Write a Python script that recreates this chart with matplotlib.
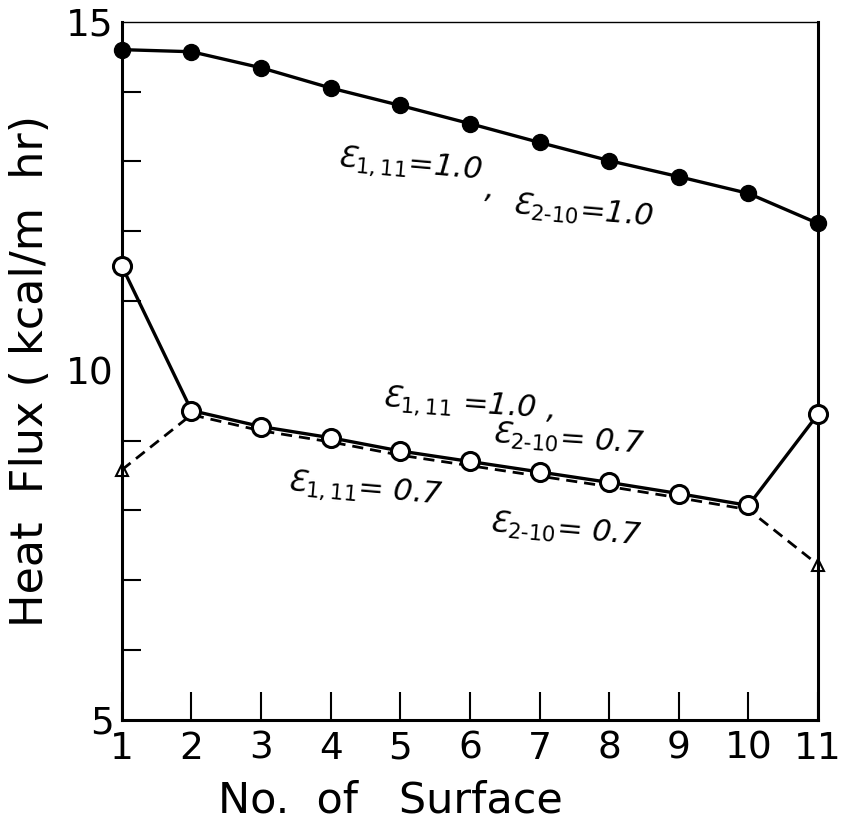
import matplotlib
matplotlib.use("Agg")
import matplotlib.pyplot as plt

surface = [1, 2, 3, 4, 5, 6, 7, 8, 9, 10, 11]
flux_all_10 = [14.60, 14.57, 14.34, 14.05, 13.80, 13.54, 13.27, 13.01, 12.78, 12.54, 12.11]
flux_ends10_mid07 = [11.50, 9.43, 9.20, 9.04, 8.85, 8.70, 8.55, 8.40, 8.24, 8.07, 9.38]
flux_all_07 = [8.58, 9.37, 9.14, 8.98, 8.79, 8.64, 8.49, 8.34, 8.18, 8.01, 7.22]

xticks = [1, 2, 3, 4, 5, 6, 7, 8, 9, 10, 11]
yticks_major = [5, 10, 15]
yticks_minor = [6, 7, 8, 9, 11, 12, 13, 14]

plt.rcParams['font.family'] = ['DejaVu Sans']
plt.rcParams['mathtext.fontset'] = 'dejavusans'

fig = plt.figure(figsize=(8.46, 8.35), dpi=100)
ax = fig.add_axes([0.144, 0.138, 0.823, 0.836])

ax.plot(surface, flux_all_07, color='black', lw=2.0, ls=(0, (4, 2.5)),
        marker='^', markevery=[0, 10], ms=8, mfc='white', mec='black', mew=1.5,
        zorder=2, clip_on=False)
ax.plot(surface, flux_ends10_mid07, color='black', lw=2.4,
        marker='o', ms=13, mfc='white', mec='black', mew=2.2, zorder=3, clip_on=False)
ax.plot(surface, flux_all_10, color='black', lw=2.4,
        marker='o', ms=11.5, mfc='black', mec='black', zorder=3, clip_on=False)

ax.set_xlim(1, 11)
ax.set_ylim(5, 15)
ax.set_xticks(xticks)
ax.set_xticklabels([str(v) for v in xticks], fontsize=27)
ax.set_yticks(yticks_major)
ax.set_yticklabels([str(v) for v in yticks_major], fontsize=27)
ax.set_yticks(yticks_minor, minor=True)
ax.tick_params(axis='x', direction='in', length=20, width=1.5, pad=8)
ax.tick_params(axis='y', which='major', direction='in', length=0, pad=6)
ax.tick_params(axis='y', which='minor', direction='in', length=14, width=1.5)
for side in ['left', 'bottom', 'right']:
    ax.spines[side].set_linewidth(2.2)
ax.spines['top'].set_linewidth(1.0)

ax.set_xlabel('No.  of   Surface', fontsize=31, labelpad=4)
ax.xaxis.set_label_coords(0.385, -0.085)
ax.set_ylabel('Heat  Flux ( kcal/m  hr)', fontsize=32, labelpad=10)

tkw = dict(fontsize=22, style='italic', va='center', ha='left')
ax.text(4.06, 12.95, r'Ɛ$_{1,11}$=1.0', rotation=-5, **tkw)
ax.text(6.2, 12.6, ',', rotation=-5, **tkw)
ax.text(6.57, 12.28, r'Ɛ$_{2\text{-}10}$=1.0', rotation=-5, **tkw)
ax.text(4.71, 9.51, r'Ɛ$_{1,11}$ =1.0 ,', rotation=-4, **tkw)
ax.text(6.29, 9.01, r'Ɛ$_{2\text{-}10}$= 0.7', rotation=-4, **tkw)
ax.text(3.34, 8.29, r'Ɛ$_{1,11}$= 0.7', rotation=-5, **tkw)
ax.text(6.24, 7.72, r'Ɛ$_{2\text{-}10}$= 0.7', rotation=-5, **tkw)

fig.savefig('out.png', dpi=100)
